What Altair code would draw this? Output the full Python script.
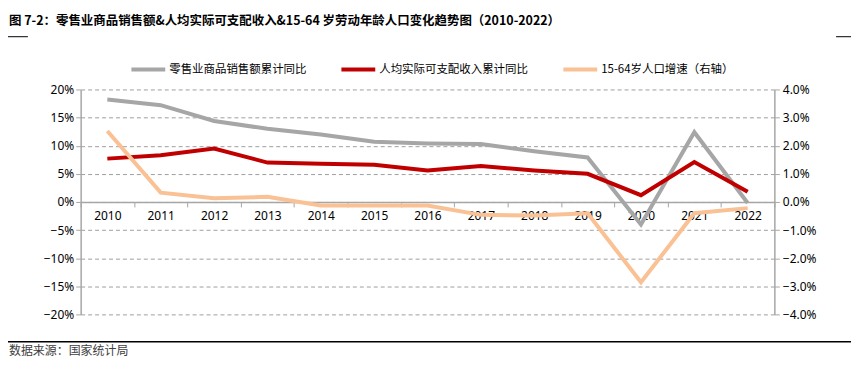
import altair as alt
import pandas as pd

years = [str(y) for y in range(2010, 2023)]
retail = [18.2, 17.2, 14.4, 13.0, 12.0, 10.7, 10.4, 10.3, 9.0, 7.9, -4.0, 12.4, -0.2]
income = [7.7, 8.3, 9.5, 7.0, 6.8, 6.6, 5.6, 6.4, 5.6, 5.0, 1.2, 7.1, 1.8]
pop = [2.52, 0.33, 0.13, 0.18, -0.13, -0.13, -0.13, -0.46, -0.48, -0.40, -2.86, -0.40, -0.22]

names = ["零售业商品销售额累计同比", "人均实际可支配收入累计同比", "15-64岁人口增速（右轴）"]
colors = ["#A6A6A6", "#C00000", "#F9C194"]

title_text = "图 7-2：零售业商品销售额&人均实际可支配收入&15-64 岁劳动年龄人口变化趋势图（2010-2022）"
source_text = "数据来源：国家统计局"

FONT = "Noto Sans CJK SC"
NUMFONT = "Noto Sans"
W, H = 697, 226

df_r = pd.DataFrame({"year": years, "v": retail, "s": names[0]})
df_i = pd.DataFrame({"year": years, "v": income, "s": names[1]})
df_p = pd.DataFrame({"year": years, "v": pop, "s": names[2]})

xenc = alt.X("year:O", bandPosition=0.5,
             scale=alt.Scale(type="band", paddingInner=0, paddingOuter=0),
             axis=alt.Axis(title=None, orient="bottom", offset=-H / 2, tickBand="extent",
                           grid=False, labelAngle=0, domainColor="#A6A6A6", tickColor="#A6A6A6",
                           domainWidth=1.5, tickSize=5, labelPadding=4, labelFontSize=12,
                           labelFont=NUMFONT, labelColor="#000000"))

color = alt.Color("s:N", scale=alt.Scale(domain=names, range=colors),
                  legend=alt.Legend(title=None, orient="none", direction="horizontal",
                                    legendX=49, legendY=-39, columns=3, columnPadding=27,
                                    symbolType="stroke", symbolSize=1156, symbolStrokeWidth=4,
                                    labelFont=FONT, labelFontSize=11.5, labelColor="#000000",
                                    labelOffset=2, symbolOffset=0))

left_axis = alt.Axis(title=None, values=[-20, -15, -10, -5, 0, 5, 10, 15, 20],
                     labelExpr="format(datum.value, 'd') + '%'",
                     grid=True, gridDash=[4, 3], gridColor="#9E9E9E", gridWidth=1,
                     domainColor="#A6A6A6", domainWidth=1.5, tickColor="#A6A6A6", tickSize=5,
                     labelPadding=2, labelFontSize=12, labelFont=NUMFONT, labelColor="#000000")
right_axis = alt.Axis(title=None, orient="right", values=[-4, -3, -2, -1, 0, 1, 2, 3, 4],
                      labelExpr="format(datum.value, '.1f') + '%'", grid=False,
                      domainColor="#A6A6A6", domainWidth=1.5, tickColor="#A6A6A6", tickSize=5,
                      labelPadding=3, labelFontSize=12, labelFont=NUMFONT, labelColor="#000000")

yl = alt.Y("v:Q", scale=alt.Scale(domain=[-20, 20], nice=False), axis=left_axis)
yr = alt.Y("v:Q", scale=alt.Scale(domain=[-4, 4], nice=False), axis=right_axis)

gray = alt.Chart(df_r).mark_line(strokeWidth=4).encode(x=xenc, y=yl, color=color)
red = alt.Chart(df_i).mark_line(strokeWidth=4).encode(x=xenc, y=yl, color=color)
orange = alt.Chart(df_p).mark_line(strokeWidth=4).encode(x=xenc, y=yr, color=color)

title = alt.Chart(pd.DataFrame({"t": [title_text]})).mark_text(
    align="left", baseline="middle", font=FONT, fontSize=12.5, fontWeight="bold", color="#000000"
).encode(x=alt.value(-72), y=alt.value(-69), text="t:N")

source = alt.Chart(pd.DataFrame({"t": [source_text]})).mark_text(
    align="left", baseline="middle", font=FONT, fontSize=12, color="#404040"
).encode(x=alt.value(-72), y=alt.value(263), text="t:N")

base_rule = alt.Chart(pd.DataFrame({"a": [0]}))
rule_tl = base_rule.mark_rule(color="#000000", strokeWidth=1).encode(
    x=alt.value(-73), x2=alt.value(-53), y=alt.value(-53))
rule_tr = base_rule.mark_rule(color="#000000", strokeWidth=1).encode(
    x=alt.value(759), x2=alt.value(774), y=alt.value(-53))
rule_b = base_rule.mark_rule(color="#000000", strokeWidth=1.5).encode(
    x=alt.value(-73), x2=alt.value(774), y=alt.value(253.5))

chart = alt.layer(
    alt.layer(gray, red), orange, title, source, rule_tl, rule_tr, rule_b
).resolve_scale(y="independent").properties(
    width=W, height=H,
    autosize=alt.AutoSizeParams(type="none"),
    padding={"left": 73, "top": 81, "right": 77, "bottom": 49},
    background="white",
).configure_view(stroke=None)

chart.save("out.html", embed_options={"renderer": "svg", "actions": False})
